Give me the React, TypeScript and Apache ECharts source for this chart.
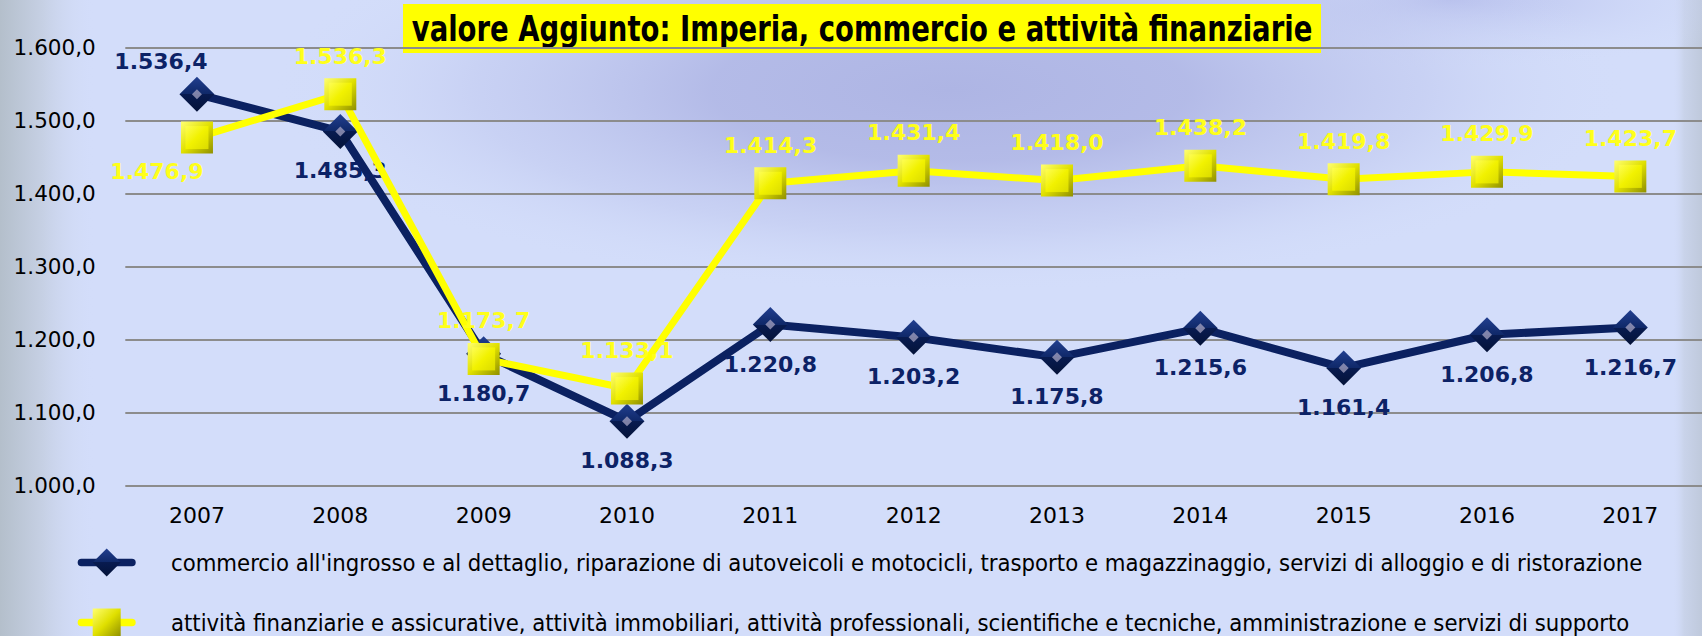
import React, { useEffect, useRef } from 'react';
import * as echarts from 'echarts';

const categories = ['2007', '2008', '2009', '2010', '2011', '2012', '2013', '2014', '2015', '2016', '2017'];
const commercioValues = [1536.4, 1485.3, 1180.7, 1088.3, 1220.8, 1203.2, 1175.8, 1215.6, 1161.4, 1206.8, 1216.7];
const finanzaValues = [1476.9, 1536.3, 1173.7, 1133.1, 1414.3, 1431.4, 1418.0, 1438.2, 1419.8, 1429.9, 1423.7];
const yMin = 1000;
const yMax = 1600;
const yStep = 100;
const seriesNames = [
  "commercio all'ingrosso e al dettaglio, riparazione di autoveicoli e motocicli, trasporto e magazzinaggio, servizi di alloggio e di ristorazione",
  'attività finanziarie e assicurative, attività immobiliari, attività professionali, scientifiche e tecniche, amministrazione e servizi di supporto',
];
const titleText = 'valore Aggiunto: Imperia, commercio e attività finanziarie';

function fmtIt(v: number): string {
  const neg = v < 0;
  const fixed = Math.abs(v).toFixed(1);
  const [intPart, dec] = fixed.split('.');
  const grouped = intPart.replace(/\B(?=(\d{3})+(?!\d))/g, '.');
  return (neg ? '-' : '') + grouped + ',' + dec;
}

function measure(text: string, font: string): number {
  const c = document.createElement('canvas').getContext('2d');
  if (!c) return text.length * 10;
  c.font = font;
  return c.measureText(text).width;
}

function hasFont(name: string): boolean {
  const t = 'abcdefghijklmnopqrstuvwxyz ABCDEFGHIJ 0123456789';
  return Math.abs(measure(t, `20px "${name}", monospace`) - measure(t, '20px monospace')) > 0.5;
}

const FONT = 'DejaVu Sans';

export default function App() {
  const ref = useRef<HTMLDivElement>(null);
  useEffect(() => {
    document.body.style.margin = '0';
    const chart = echarts.init(ref.current!, null, { renderer: 'svg' });

    const legendFont = hasFont('Liberation Sans Narrow')
      ? 'Liberation Sans Narrow'
      : hasFont('DejaVu Sans Condensed')
      ? 'DejaVu Sans Condensed'
      : FONT;
    const legendFs = Math.min(24, (20 * 1472) / measure(seriesNames[0], `20px "${legendFont}"`));
    const titleScale = 901 / measure(titleText, `bold 36px "${FONT}"`);

    const G = echarts.graphic;
    const blueFill = new G.LinearGradient(0, 0, 0, 1, [
      { offset: 0, color: '#223f90' },
      { offset: 0.5, color: '#0f2868' },
      { offset: 0.5, color: '#081b50' },
      { offset: 1, color: '#041238' },
    ]);
    const yellowFrame = new G.LinearGradient(0, 0, 1, 1, [
      { offset: 0, color: '#ffff70' },
      { offset: 0.5, color: '#e0e000' },
      { offset: 1, color: '#8f8f00' },
    ]);
    const yellowFace = new G.LinearGradient(0, 0, 1, 1, [
      { offset: 0, color: '#ffff55' },
      { offset: 0.5, color: '#f6f600' },
      { offset: 1, color: '#e8e800' },
    ]);

    const labelBase = {
      show: true,
      fontSize: 22,
      fontWeight: 'bold',
      fontFamily: FONT,
      lineHeight: 22,
      formatter: (p: any) => fmtIt(p.value),
    };

    const legendCommon = {
      orient: 'vertical',
      left: 77.7,
      padding: 0,
      itemWidth: 50.5,
      itemHeight: 35,
      lineStyle: { width: 7.5, cap: 'round' },
      textStyle: {
        fontFamily: legendFont,
        fontSize: legendFs,
        lineHeight: Math.round(legendFs),
        color: '#000',
        padding: [0, 0, 0, 34],
      },
    };

    const option: any = {
      animation: false,
      backgroundColor: '#d3ddfa',
      graphic: [
        {
          type: 'rect',
          z: -10,
          silent: true,
          shape: { x: 0, y: 0, width: 95, height: 636 },
          style: {
            fill: new G.LinearGradient(0, 0, 1, 0, [
              { offset: 0, color: '#b4bfcb' },
              { offset: 0.45, color: '#c6d0e4' },
              { offset: 1, color: 'rgba(211,221,250,0)' },
            ]),
          },
        },
        {
          type: 'rect',
          z: -9,
          silent: true,
          x: 1450,
          y: 0,
          scaleY: 0.22,
          shape: { x: -320, y: -320, width: 640, height: 640 },
          style: {
            fill: new G.RadialGradient(0.5, 0.5, 0.5, [
              { offset: 0, color: 'rgba(178,186,234,0.9)' },
              { offset: 1, color: 'rgba(211,221,250,0)' },
            ]),
          },
        },
        {
          type: 'rect',
          z: -9,
          silent: true,
          x: 950,
          y: 90,
          scaleY: 0.3,
          shape: { x: -680, y: -680, width: 1360, height: 1360 },
          style: {
            fill: new G.RadialGradient(0.5, 0.5, 0.5, [
              { offset: 0, color: 'rgba(174,181,228,1)' },
              { offset: 0.35, color: 'rgba(177,184,230,0.92)' },
              { offset: 0.7, color: 'rgba(190,198,238,0.5)' },
              { offset: 1, color: 'rgba(211,221,250,0)' },
            ]),
          },
        },
        {
          type: 'rect',
          z: -10,
          silent: true,
          shape: { x: 1672, y: 0, width: 30, height: 636 },
          style: {
            fill: new G.LinearGradient(0, 0, 1, 0, [
              { offset: 0, color: 'rgba(211,221,250,0)' },
              { offset: 0.4, color: '#c9d3ea' },
              { offset: 1, color: '#bfc9dc' },
            ]),
          },
        },
        {
          type: 'group',
          z: 100,
          children: [
            {
              type: 'rect',
              shape: { x: 403, y: 4, width: 918, height: 49 },
              style: { fill: '#ffff00' },
            },
            {
              type: 'text',
              x: 862,
              y: 29,
              scaleX: titleScale,
              style: {
                text: titleText,
                fontSize: 36,
                fontWeight: 'bold',
                fontFamily: FONT,
                fill: '#000000',
                align: 'center',
                verticalAlign: 'middle',
              },
            },
          ],
        },
      ],
      grid: { left: 125.3, top: 47.7, width: 1588.2, height: 438 },
      legend: [
        { ...legendCommon, data: [seriesNames[0]], top: 548.5 },
        { ...legendCommon, data: [seriesNames[1]], top: 608.5 },
      ],
      xAxis: {
        type: 'category',
        data: categories,
        boundaryGap: true,
        axisLine: { show: false },
        axisTick: { show: false },
        axisLabel: { fontSize: 22, fontFamily: FONT, color: '#000', margin: 19 },
      },
      yAxis: {
        type: 'value',
        min: yMin,
        max: yMax,
        interval: yStep,
        axisLine: { show: false },
        axisTick: { show: false },
        axisLabel: { fontSize: 21.5, fontFamily: FONT, color: '#000', margin: 29.6, formatter: (v: number) => fmtIt(v) },
        splitLine: { lineStyle: { color: '#8c8c8c', width: 2 } },
      },
      series: [
        {
          type: 'line',
          name: seriesNames[0],
          z: 2,
          data: commercioValues.map((v, i) => ({
            value: v,
            label: i === 0 ? { position: 'top', distance: 4, offset: [-36, 0] } : { position: 'bottom', distance: 11 },
          })),
          symbol: 'diamond',
          symbolSize: 35,
          lineStyle: { color: '#0b2161', width: 8 },
          itemStyle: { color: blueFill },
          label: { ...labelBase, color: '#0c2266' },
        },
        {
          type: 'scatter',
          name: 'commercio-highlight',
          z: 3,
          silent: true,
          data: commercioValues,
          symbol: 'diamond',
          symbolSize: 10,
          itemStyle: { color: '#9c9bbb' },
        },
        {
          type: 'line',
          name: seriesNames[1],
          z: 4,
          data: finanzaValues.map((v, i) => ({
            value: v,
            label: i === 0 ? { position: 'bottom', distance: 7, offset: [-40, 0] } : { position: 'top', distance: 11 },
          })),
          symbol: 'rect',
          symbolSize: 32,
          lineStyle: { color: '#ffff00', width: 7 },
          itemStyle: { color: yellowFrame },
          label: { ...labelBase, color: '#ffff1a' },
        },
        {
          type: 'scatter',
          name: 'finanza-highlight',
          z: 5,
          silent: true,
          data: finanzaValues,
          symbol: 'rect',
          symbolSize: 23,
          itemStyle: { color: yellowFace },
        },
      ],
    };

    chart.setOption(option);
    return () => chart.dispose();
  }, []);
  return <div ref={ref} style={{ width: 1702, height: 636 }} />;
}
